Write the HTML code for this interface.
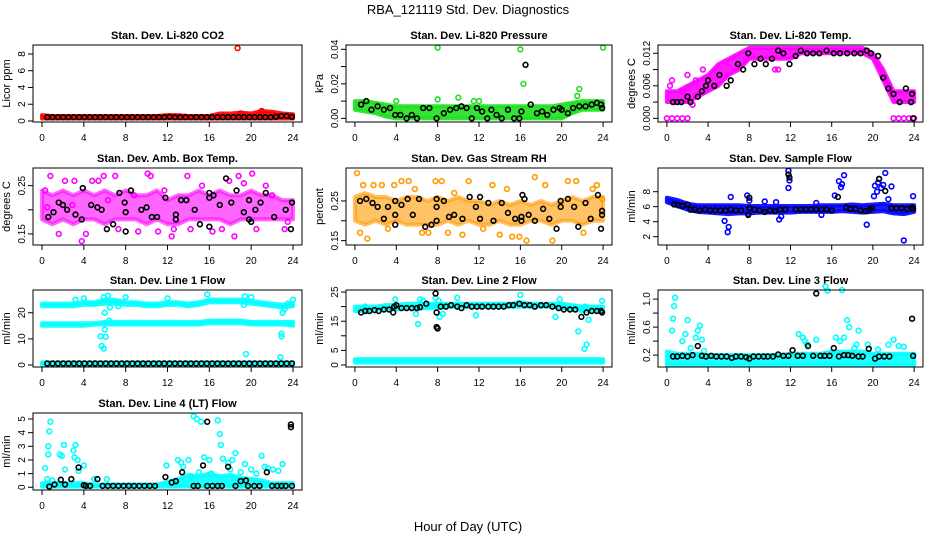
<!DOCTYPE html>
<html><head><meta charset="utf-8"><style>
body{margin:0;background:#fff}
svg{display:block;font-family:"Liberation Sans",sans-serif}
</style></head><body>
<svg id="chart" width="936" height="540" viewBox="0 0 936 540">
<text x="468" y="14" text-anchor="middle" font-size="13">RBA_121119  Std. Dev. Diagnostics</text>
<text x="468" y="531" text-anchor="middle" font-size="13">Hour of Day (UTC)</text>
</svg>
<script>
// ---- data ----
const xTicks=[0,4,8,12,16,20,24];
const co2Top=[0.7,0.6,0.6,0.6,0.6,0.6,0.6,0.6,0.6,0.6,0.6,0.6,0.7,0.7,0.6,0.6,0.6,0.9,0.9,1.0,0.9,1.2,1.1,0.9,0.8];
const co2Bot=[0.3,0.3,0.3,0.3,0.3,0.3,0.3,0.3,0.3,0.3,0.3,0.3,0.3,0.3,0.3,0.3,0.3,0.3,0.3,0.3,0.3,0.3,0.3,0.3,0.3];
const co2Out=[[18.7,8.7],[19,0.9],[21,1.2]];
const co2Black=[0.45,0.45,0.45,0.45,0.45,0.45,0.45,0.45,0.45,0.45,0.45,0.45,0.45,0.45,0.45,0.45,0.45,0.45,0.45,0.45,0.45,0.45,0.45,0.5,0.45,0.45,0.45,0.45,0.45,0.45,0.45,0.45,0.45,0.45,0.45,0.45,0.45,0.45,0.45,0.45,0.45,0.45,0.45,0.5,0.6,0.6,0.5];
const prTop=[0.010,0.010,0.009,0.008,0.007,0.007,0.007,0.007,0.007,0.007,0.007,0.007,0.007,0.007,0.007,0.007,0.007,0.007,0.007,0.007,0.008,0.009,0.010,0.010,0.010];
const prBot=[0.005,0.004,0.003,0.001,0.000,0.000,0.000,0.000,0.000,0.000,0.000,0.000,0.000,0.000,0.000,0.000,0.000,0.000,0.000,0.000,0.000,0.003,0.005,0.005,0.005];
const prOut=[[8,0.041],[16,0.04],[24,0.041],[16.3,0.02],[21.7,0.017],[21.5,0.013],[4,0.01],[8,0.011],[10,0.012],[11.5,0.01],[12,0.01]];
const prBlack=[[0.6,0.008],[1.1,0.010],[1.6,0.005],[2.2,0.007],[2.8,0.005],[3.4,0.006],[3.9,0.002],[4.4,0.002],[5,0.0],[5.5,0.002],[6,0.0],[6.6,0.006],[7.2,0.006],[7.9,0.0],[8.6,0.003],[9.2,0.005],[9.8,0.006],[10.3,0.007],[10.8,0.006],[11.3,0.0],[11.8,0.006],[12.3,0.004],[12.8,0.0],[13.2,0.005],[13.7,0.002],[14.2,0.0],[14.8,0.005],[15.4,0.0],[15.9,0.0],[16.1,0.004],[16.5,0.031],[17,0.008],[17.6,0.003],[18.1,0.004],[18.6,0.002],[19.2,0.005],[19.8,0.006],[20,0.005],[20.6,0.003],[21.1,0.006],[21.7,0.007],[22.3,0.007],[22.9,0.008],[23.4,0.009],[23.8,0.008],[23.9,0.006]];
const tmTop=[0.005,0.005,0.006,0.007,0.008,0.010,0.011,0.012,0.013,0.013,0.013,0.013,0.013,0.013,0.013,0.013,0.013,0.013,0.013,0.013,0.012,0.009,0.005,0.005,0.005];
const tmBot=[0.003,0.003,0.003,0.004,0.005,0.006,0.008,0.009,0.011,0.011,0.011,0.011,0.011,0.012,0.012,0.012,0.012,0.012,0.012,0.012,0.011,0.007,0.003,0.003,0.003];
const tmOut=[[0,0],[0.5,0],[1,0],[1.5,0],[2,0],[22,0],[22.5,0],[23,0],[23.5,0],[24,0],[0.3,0.006],[0.5,0.007],[1.5,0.005],[2,0.008],[2.5,0.0025],[2.8,0.007],[3.5,0.009],[10.5,0.009],[10.8,0.009],[21.5,0.006]];
const tmBlack=[[0.6,0.003],[1,0.003],[1.4,0.003],[2,0.004],[2.3,0.003],[3,0.004],[3.4,0.005],[3.8,0.006],[4,0.007],[4.6,0.006],[5.1,0.008],[5.8,0.006],[6.2,0.007],[6.9,0.010],[7.4,0.009],[7.9,0.012],[8.5,0.010],[9.1,0.011],[9.6,0.010],[10.2,0.011],[10.8,0.0125],[11.3,0.012],[11.9,0.010],[12.5,0.0115],[13,0.0125],[13.6,0.012],[14.2,0.012],[14.8,0.012],[15.5,0.0125],[16.2,0.012],[16.8,0.012],[17.5,0.012],[18.2,0.012],[18.8,0.012],[19.4,0.0125],[19.8,0.012],[20.5,0.0115],[21,0.0075],[21.5,0.0055],[22,0.0045],[22.6,0.003],[23.2,0.0055],[23.7,0.003],[23.8,0.0045],[23.9,0.0]];
const abTop=[0.24,0.23,0.24,0.23,0.24,0.23,0.24,0.23,0.24,0.23,0.23,0.24,0.22,0.23,0.23,0.24,0.23,0.24,0.23,0.23,0.24,0.23,0.23,0.22,0.22];
const abBot=[0.18,0.17,0.18,0.17,0.18,0.18,0.17,0.18,0.18,0.18,0.17,0.18,0.17,0.17,0.18,0.18,0.18,0.18,0.17,0.18,0.18,0.18,0.18,0.18,0.18];
const abOut=[[0.3,0.24],[0.5,0.205],[0.8,0.27],[1.6,0.15],[2.2,0.26],[2.9,0.21],[3.1,0.26],[3.8,0.135],[4.2,0.15],[4.8,0.26],[5.4,0.26],[5.9,0.27],[6.3,0.22],[7,0.27],[7.3,0.16],[8.8,0.23],[9.2,0.155],[10.1,0.275],[10.4,0.27],[11.1,0.155],[11.7,0.24],[12.4,0.145],[12.6,0.16],[13.9,0.27],[14.2,0.16],[15.3,0.25],[16.3,0.155],[17.2,0.16],[17.9,0.26],[18.4,0.145],[18.8,0.27],[19.3,0.255],[20.1,0.275],[20.5,0.16],[21.4,0.25],[22,0.23],[23.2,0.16],[23.5,0.175]];
const abBlack=[[0.6,0.185],[1.1,0.195],[1.6,0.215],[2,0.21],[2.4,0.2],[3.2,0.19],[3.9,0.245],[3.8,0.18],[4.7,0.21],[5.3,0.205],[5.7,0.2],[6.2,0.16],[6.8,0.17],[7.4,0.235],[7.9,0.215],[8,0.195],[8,0.155],[8.5,0.24],[9.5,0.2],[10,0.205],[10.5,0.185],[11,0.185],[11.8,0.225],[12.8,0.19],[12.8,0.18],[13.3,0.22],[13.8,0.22],[14.6,0.2],[15.1,0.17],[16,0.225],[16.4,0.23],[16,0.235],[16,0.165],[17,0.21],[17.6,0.265],[18.1,0.215],[18.6,0.24],[19.3,0.195],[19.8,0.22],[19.8,0.18],[20,0.175],[20.4,0.2],[20.9,0.215],[21.4,0.235],[22.2,0.185],[23.3,0.2],[23.9,0.215],[23.8,0.16]];
const rhTop=[0.26,0.27,0.26,0.26,0.25,0.26,0.26,0.25,0.26,0.25,0.26,0.25,0.25,0.24,0.25,0.24,0.25,0.24,0.25,0.24,0.25,0.26,0.25,0.26,0.26];
const rhBot=[0.20,0.19,0.20,0.19,0.20,0.19,0.19,0.19,0.19,0.20,0.19,0.20,0.19,0.19,0.20,0.19,0.19,0.20,0.20,0.19,0.20,0.20,0.19,0.20,0.20];
const rhOut=[[0.2,0.32],[0.5,0.17],[0.8,0.29],[1.2,0.155],[1.8,0.29],[2.6,0.29],[3.2,0.18],[3.8,0.29],[4.5,0.3],[5.2,0.3],[5.8,0.28],[6.5,0.17],[7.1,0.17],[7.8,0.3],[8.4,0.3],[9,0.17],[9.6,0.27],[10.4,0.165],[11,0.3],[12.4,0.18],[13.3,0.29],[14,0.165],[14.7,0.28],[15.2,0.16],[15.9,0.16],[16.6,0.15],[17.4,0.31],[18.4,0.29],[19.1,0.15],[20.6,0.3],[21.4,0.3],[22.1,0.17],[23,0.28],[23.4,0.29],[23.9,0.255]];
const rhBlack=[[0.5,0.25],[1.1,0.255],[1.7,0.245],[2.2,0.235],[2.8,0.205],[3.2,0.235],[3.9,0.25],[3.9,0.215],[3.9,0.19],[4.5,0.24],[5.1,0.255],[5.6,0.215],[6.2,0.255],[6.8,0.185],[7.4,0.19],[7.9,0.255],[7.9,0.235],[7.9,0.2],[8.6,0.25],[9.1,0.21],[9.6,0.215],[10.4,0.205],[11.1,0.26],[11.7,0.235],[12.1,0.26],[12.1,0.205],[12.9,0.245],[13.4,0.2],[14.2,0.245],[14.8,0.22],[15.5,0.205],[16.2,0.265],[16.4,0.255],[16.1,0.21],[16.1,0.2],[16.8,0.215],[17.4,0.2],[18.2,0.23],[18.8,0.205],[19.5,0.18],[19.9,0.25],[19.9,0.235],[20.6,0.255],[21.2,0.235],[21.6,0.185],[22.3,0.245],[22.8,0.205],[23.5,0.265],[23.9,0.225],[23.9,0.215],[23.8,0.18]];
const sfTop=[7.2,6.9,6.4,6.2,6.2,6.2,6.2,6.2,6.1,6.1,6.1,6.1,6.1,6.1,6.1,6.2,6.2,6.2,6.3,6.2,6.3,6.4,6.2,6.2,6.2];
const sfBot=[6.6,6.1,5.6,5.3,5.2,5.1,5.0,5.1,5.1,5.2,5.2,5.2,5.2,5.3,5.3,5.3,5.3,5.4,5.3,5.2,5.3,5.4,5.1,5.0,5.3];
const sfOut=[[20.2,8.8],[20.5,9.2],[20.8,8.5],[20.4,8.0],[21,8.9],[20.6,9.7],[20.1,7.4],[21.2,10.5],[21.5,7.0],[21.8,8.7],[16.9,8.6],[16.7,9.4],[17,9],[17.2,10.2],[16.3,7.5],[11.8,10.8],[11.8,8.5],[11.9,9.5],[7.8,7.5],[8,6.8],[7.9,5.0],[5.9,2.6],[6,3.3],[5.6,4.1],[6.2,7.3],[9.5,6.7],[10.9,4.3],[11.1,4.7],[10.6,6.6],[14.5,6.5],[15,4.9],[19.4,3.6],[23,1.5],[23.9,7.4]];
const sfBlack=[[0.7,6.3],[1.1,6.2],[1.5,6.1],[2,6.3],[2.3,5.6],[2.7,5.6],[3.2,5.5],[3.7,5.6],[4.2,5.5],[4.7,5.5],[5.2,5.5],[5.7,5.5],[6.2,5.6],[6.7,5.5],[7.2,5.5],[7.9,4.9],[8,5.8],[8,7.2],[8.5,5.6],[9,5.5],[9.5,5.3],[10,5.5],[10.5,5.4],[11,5.6],[11.5,5.6],[11.8,10.3],[11.9,9.9],[12.5,5.6],[13,5.6],[13.5,5.6],[14,5.6],[14.5,5.6],[15,5.6],[15.5,5.6],[16,5.5],[16.6,7.3],[17.4,5.9],[17.8,5.7],[18.3,5.7],[18.8,5.5],[19.3,5.4],[19.7,5.6],[19.9,5.8],[20.6,9.7],[21.2,8.1],[21.8,5.8],[22.3,5.8],[22.8,5.8],[23.3,5.7],[23.8,5.9],[23.9,5.7]];
const l1TopA=[23.5,23.5,23.5,23.5,24,24,25,25,24,24,23.5,23.5,24,24,23.5,24,25,25,25,25,24.5,24,23.5,23,23.5];
const l1BotA=[22.5,22.5,22.5,22.5,23,23,23.5,23.5,23,23,22.5,22.5,23,23,22.5,23,24,24,24,24,23.5,23,22.5,22,22.5];
const l1TopB=[16,16,16,16,16,16,16.5,16.5,16.5,16.5,16.5,16.5,16.5,16.5,16.5,16.5,17,17,17,17,16.5,16.5,16.5,16.5,16.5];
const l1BotB=[15,15,15,15,15,15.5,15.5,15.5,15.5,15.5,15.5,15.5,15.5,15.5,15.5,15.5,16,16,16,16,15.5,15.5,15.5,15.5,15];
const l1TopC=[1,1,1,1,1,1,1,1,1,1,1,1,1,1,1,1,1,1,1,1,1,1,1,1,1];
const l1BotC=[0.2,0.2,0.2,0.2,0.2,0.2,0.2,0.2,0.2,0.2,0.2,0.2,0.2,0.2,0.2,0.2,0.2,0.2,0.2,0.2,0.2,0.2,0.2,0.2,0.2];
const l1Out=[[5.6,11],[5.7,7.3],[5.9,6.3],[6.1,10.8],[6,13.6],[6,20],[5.9,26],[6.3,26.5],[6.5,22],[6.4,17],[7.3,22.5],[8,26],[3.2,25],[4,25.5],[12,25.5],[15.8,27],[19.5,4.2],[19.4,26.3],[20,26],[19.3,23],[22.8,3],[22.9,11],[22.9,12],[23,20],[23.2,21.5],[23.5,23.5],[24,25]];
const l1Black=[0.6,0.6,0.6,0.6,0.6,0.6,0.6,0.6,0.6,0.6,0.6,0.6,0.6,0.6,0.6,0.6,0.6,0.6,0.6,0.6,0.6,0.6,0.6,0.6,0.6,0.6,0.6,0.6,0.6,0.6,0.6,0.6,0.6,0.6,0.6,0.6,0.6,0.6,0.6,0.6,0.6,0.6,0.6,0.6,0.6,0.6,0.6];
const l2TopA=[20,20,20,20.5,20.5,21,21,21,21,21,21,21,21,21,21,21,21.5,21,21,21,21,20.5,20,20,20];
const l2BotA=[18.5,18.5,19,19,19,19.5,19.5,19.5,19.5,20,20,20,20,20,20,20,20,20,20,20,19.5,19,18.5,18.5,18.5];
const l2TopB=[2,2,2,2,2,2,2,2,2,2,2,2,2,2,2,2,2,2,2,2,2,2,2,2,2];
const l2BotB=[0.8,0.8,0.8,0.8,0.8,0.8,0.8,0.8,0.8,0.8,0.8,0.8,0.8,0.8,0.8,0.8,0.8,0.8,0.8,0.8,0.8,0.8,0.8,0.8,0.8];
const l2Out=[[0.3,19],[1,20],[3.9,22.5],[5.9,17.5],[6.1,14],[6.3,22.5],[6.6,22],[7.8,23],[8.1,22],[8.2,16.5],[8.5,17.5],[9.9,23],[11.7,17],[16,24],[19.4,16.5],[19.8,22.5],[21.6,11.5],[22.2,5.5],[22.4,7],[22.6,15.5],[22.3,20],[23.9,22]];
const l2Black=[[0.6,18],[1,18.5],[1.4,18.5],[1.9,18.8],[2.3,18.5],[2.8,19],[3.3,19],[3.7,18],[3.8,20],[4,20.5],[4.5,19.5],[5,19.5],[5.5,19.5],[6,19.5],[6.3,19.8],[6.9,21],[7.8,24.5],[7.9,18],[7.9,13],[8,12.5],[8.3,20],[8.8,20],[9.3,20.5],[9.9,20],[10.3,19.5],[10.8,20.5],[11.3,20],[11.8,20],[12.3,20],[12.9,20],[13.4,20],[13.9,20],[14.4,20],[14.9,20.5],[15.3,20.5],[15.9,21],[16.4,20.5],[16.9,20.5],[17.4,20],[18,20.5],[18.5,20.5],[19.1,20],[19.7,19.5],[20.2,19],[20.8,19],[21.3,19],[21.9,16.5],[22.4,18],[22.9,18.5],[23.4,18.5],[23.8,18.5],[23.9,18]];
const l3Top=[0.25,0.22,0.22,0.22,0.2,0.2,0.2,0.2,0.2,0.2,0.2,0.2,0.22,0.22,0.22,0.22,0.25,0.25,0.25,0.25,0.22,0.22,0.22,0.22,0.22];
const l3Bot=[0.06,0.06,0.06,0.06,0.06,0.06,0.06,0.06,0.06,0.06,0.06,0.06,0.06,0.06,0.06,0.06,0.06,0.06,0.06,0.06,0.06,0.06,0.06,0.06,0.06];
const l3Out=[[0.5,0.55],[0.6,0.72],[0.7,0.9],[0.8,1.02],[1.5,0.4],[1.8,0.5],[2,0.7],[2.3,0.3],[2.8,0.45],[3,0.55],[3.2,0.62],[3.4,0.42],[3.6,0.26],[12.8,0.5],[13.2,0.45],[13.4,0.4],[13.6,0.36],[14.5,0.42],[15.4,1.18],[15.6,1.12],[16.4,0.45],[16.8,0.4],[17,1.13],[17.2,0.45],[17.5,0.7],[17.7,0.6],[18.2,0.3],[18.6,0.55],[18.4,0.35],[19.5,0.35],[20.5,0.28],[21.5,0.35],[22,0.42],[22.5,0.33],[23,0.32]];
const l3Black=[[0.6,0.18],[1,0.18],[1.5,0.19],[2,0.18],[2.5,0.2],[3,0.33],[3.4,0.19],[3.8,0.18],[4.3,0.19],[4.8,0.18],[5.3,0.18],[5.8,0.18],[6.3,0.16],[6.7,0.18],[7.2,0.18],[7.7,0.17],[8,0.15],[8.4,0.18],[8.9,0.18],[9.4,0.18],[9.8,0.18],[10.3,0.18],[10.8,0.21],[11.3,0.19],[11.8,0.19],[12.2,0.27],[12.7,0.19],[13.2,0.19],[13.7,0.33],[14.2,0.19],[14.5,1.08],[14.9,0.19],[15.3,0.19],[15.8,0.19],[16.2,0.3],[16.7,0.18],[17.2,0.2],[17.6,0.2],[18,0.19],[18.6,0.18],[19,0.18],[19.6,0.29],[20.2,0.15],[20.6,0.18],[21.1,0.18],[21.6,0.18],[23.8,0.72],[23.9,0.19]];
const l4Top=[0.3,0.3,0.3,0.3,0.3,0.2,0.2,0.2,0.2,0.2,0.2,0.2,0.4,0.6,0.9,0.8,1.0,0.8,0.9,0.7,0.6,0.5,0.3,0.3,0.3];
const l4Bot=[0.05,0.05,0.05,0.05,0.05,0.05,0.05,0.05,0.05,0.05,0.05,0.05,0.05,0.05,0.05,0.05,0.05,0.05,0.05,0.05,0.05,0.05,0.05,0.05,0.05];
const l4Out=[[0.3,1.4],[0.5,0.6],[0.6,3],[0.6,2.4],[0.7,4.1],[0.8,4.8],[1,0.5],[1.7,2.4],[1.9,2.3],[2.1,3.1],[2.2,1.3],[3,2.7],[3.1,2.2],[3.2,3.1],[3.4,2],[3.5,1.2],[4,1.6],[5,0.6],[6.2,0.6],[11.9,1.6],[13,2],[13.3,1.8],[13.5,1.5],[14,2],[14.5,5.2],[14.8,5],[15.2,4.8],[15,1.1],[15.5,2.2],[16,2],[16.8,4.9],[17,3.9],[17.1,3.1],[17.3,2.1],[17.8,1.8],[18.5,2.5],[18.2,2],[19,1.1],[19.4,1.7],[20,1.3],[20.5,1],[21,2.3],[21.3,1.5],[21.6,1.4],[22.1,1.3],[22.6,1.2],[23,1.7],[18,1.3],[16.2,1.0],[14.2,0.8]];
const l4Black=[[0.7,0.05],[1.2,0.2],[1.8,0.55],[2.2,0.2],[2.8,0.6],[3.5,1.45],[4,0.15],[4.2,0.1],[4.6,0.1],[5.3,0.6],[5.8,0.1],[6.3,0.1],[6.8,0.1],[7.3,0.1],[7.8,0.1],[8.3,0.1],[8.8,0.1],[9.3,0.1],[9.8,0.1],[10.3,0.1],[10.8,0.1],[11.8,0.75],[12.4,0.35],[12.8,0.45],[13.4,1.1],[14.5,0.1],[14.9,0.1],[15.4,1.6],[15.8,0.1],[15.8,4.8],[16.3,0.1],[16.8,0.1],[17.2,0.1],[17.8,1.5],[18.5,0.1],[19,0.45],[19.5,0.5],[19.7,0.1],[20.3,0.1],[20.8,0.1],[21.5,1.1],[22,0.1],[22.5,0.1],[22.9,0.1],[23.3,0.1],[23.8,4.4],[23.8,4.6],[23.9,0.1]];

// ---- layout ----
const NS='http://www.w3.org/2000/svg';
const svg=document.getElementById('chart');
const cols=[[33,302],[346,612],[658,923]];
const rows=[[45,122],[168,245],[290,367],[413,490]];
function mk(tag,attrs,parent){const e=document.createElementNS(NS,tag);for(const k in attrs)e.setAttribute(k,attrs[k]);(parent||svg).appendChild(e);return e;}
const panels=[
 {key:'co2',c:0,r:0,title:'Stan. Dev. Li-820 CO2',yl:'Licor ppm',dom:[-0.12,9.07],ticks:[0,2,4,6,8],labs:['0','2','4','6','8'],col:'#ff0000',op:0.9,bands:[[co2Top,co2Bot]],out:co2Out,blackY:co2Black},
 {key:'pressure',c:1,r:0,title:'Stan. Dev. Li-820 Pressure',yl:'kPa',dom:[-0.0021,0.0425],ticks:[0,0.01,0.02,0.03,0.04],labs:['0.00','','0.02','','0.04'],col:'#1ee01e',op:0.9,bands:[[prTop,prBot]],out:prOut,black:prBlack},
 {key:'temp',c:2,r:0,title:'Stan. Dev. Li-820 Temp.',yl:'degrees C',dom:[-0.00068,0.01353],ticks:[0,0.003,0.006,0.009,0.012],labs:['0.000','','0.006','','0.012'],col:'#ff00ff',op:0.9,bands:[[tmTop,tmBot]],out:tmOut,black:tmBlack},
 {key:'ambbox',c:0,r:1,title:'Stan. Dev. Amb. Box Temp.',yl:'degrees C',dom:[0.127,0.2866],ticks:[0.15,0.2,0.25],labs:['0.15','','0.25'],col:'#ff00ff',op:0.6,bands:[[abTop,abBot]],out:abOut,black:abBlack},
 {key:'rh',c:1,r:1,title:'Stan. Dev. Gas Stream RH',yl:'percent',dom:[0.139,0.333],ticks:[0.15,0.2,0.25],labs:['0.15','','0.25'],col:'#ff9a00',op:0.6,bands:[[rhTop,rhBot]],out:rhOut,black:rhBlack},
 {key:'sampleflow',c:2,r:1,title:'Stan. Dev. Sample Flow',yl:'ml/min',dom:[0.89,11.16],ticks:[2,4,6,8],labs:['2','4','6','8'],col:'#0000ff',op:0.9,bands:[[sfTop,sfBot]],out:sfOut,black:sfBlack},
 {key:'line1',c:0,r:2,title:'Stan. Dev. Line 1 Flow',yl:'ml/min',dom:[-0.76,28.7],ticks:[0,10,20],labs:['0','10','20'],col:'#00ffff',op:0.9,bands:[[l1TopA,l1BotA],[l1TopB,l1BotB],[l1TopC,l1BotC]],out:l1Out,blackY:l1Black},
 {key:'line2',c:1,r:2,title:'Stan. Dev. Line 2 Flow',yl:'ml/min',dom:[-0.7,25.7],ticks:[0,5,10,15,20,25],labs:['0','5','','15','','25'],col:'#00ffff',op:0.9,bands:[[l2TopA,l2BotA],[l2TopB,l2BotB]],out:l2Out,black:l2Black},
 {key:'line3',c:2,r:2,title:'Stan. Dev. Line 3 Flow',yl:'ml/min',dom:[0.03,1.13],ticks:[0.2,0.4,0.6,0.8,1.0],labs:['0.2','','0.6','','1.0'],col:'#00ffff',op:0.9,bands:[[l3Top,l3Bot]],out:l3Out,black:l3Black},
 {key:'line4',c:0,r:3,title:'Stan. Dev. Line 4 (LT) Flow',yl:'ml/min',dom:[-0.2,5.44],ticks:[0,1,2,3,4,5],labs:['0','1','2','3','4','5'],col:'#00ffff',op:0.9,bands:[[l4Top,l4Bot]],out:l4Out,black:l4Black}
];
panels.forEach(p=>{
 const [L,R]=cols[p.c],[T,B]=rows[p.r];
 const x0=L+(R-L)*0.0335,x1=R-(R-L)*0.0335;
 const X=h=>x0+(x1-x0)*h/24;
 const Y=v=>B-(B-T)*(v-p.dom[0])/(p.dom[1]-p.dom[0]);
 const g=mk('g',{});
 
 
 const t=mk('text',{x:(L+R)/2,y:T-6,'text-anchor':'middle','font-size':'11','font-weight':'bold'},g);t.textContent=p.title;
 
 
 const yl=mk('text',{transform:`translate(${L-23},${(T+B)/2}) rotate(-90)`,'text-anchor':'middle','font-size':'11'},g);yl.textContent=p.yl;
 
 
 p.bands.forEach(([tp,bt])=>{
  const n=tp.length;let pts=[];
  for(let i=0;i<n;i++)pts.push(X(i*24/(n-1))+','+Y(tp[i]));
  for(let i=n-1;i>=0;i--)pts.push(X(i*24/(n-1))+','+Y(bt[i]));
  const pg=mk('polygon',{points:pts.join(' '),fill:p.col,'fill-opacity':p.op,stroke:p.col,'stroke-width':4,'stroke-opacity':p.op,'stroke-linejoin':'round'},g);
  
  
 });
 const dot=(h,v,c,nm)=>{const e=mk('circle',{cx:X(h),cy:Y(v),r:2.4,fill:'none',stroke:c,'stroke-width':1.6},g);
  
  };
 p.out.forEach(([h,v])=>dot(h,v,p.col,'data-point'));
 if(p.black)p.black.forEach(([h,v])=>dot(h,v,'#000','black-point'));
 if(p.blackY){const n=p.blackY.length;p.blackY.forEach((v,i)=>dot(0.5+i*23.4/(n-1),v,'#000','black-point'));}
 const bx=mk('rect',{x:L,y:T,width:R-L,height:B-T,fill:'none',stroke:'#000','stroke-width':1},g);
 
 
 mk('line',{x1:X(0),x2:X(24),y1:B,y2:B,stroke:'#000'},g);
 xTicks.forEach(h=>{mk('line',{x1:X(h),x2:X(h),y1:B,y2:B+5,stroke:'#000'},g);
  const tx=mk('text',{x:X(h),y:B+19,'text-anchor':'middle','font-size':'10'},g);tx.textContent=h;
  
  });
 p.ticks.forEach((v,i)=>{mk('line',{x1:L-5,x2:L,y1:Y(v),y2:Y(v),stroke:'#000'},g);
  if(p.labs[i]){const ty=mk('text',{transform:`translate(${L-8},${Y(v)}) rotate(-90)`,'text-anchor':'middle','font-size':'10'},g);ty.textContent=p.labs[i];
  
  }});
});
</script>
</body></html>
